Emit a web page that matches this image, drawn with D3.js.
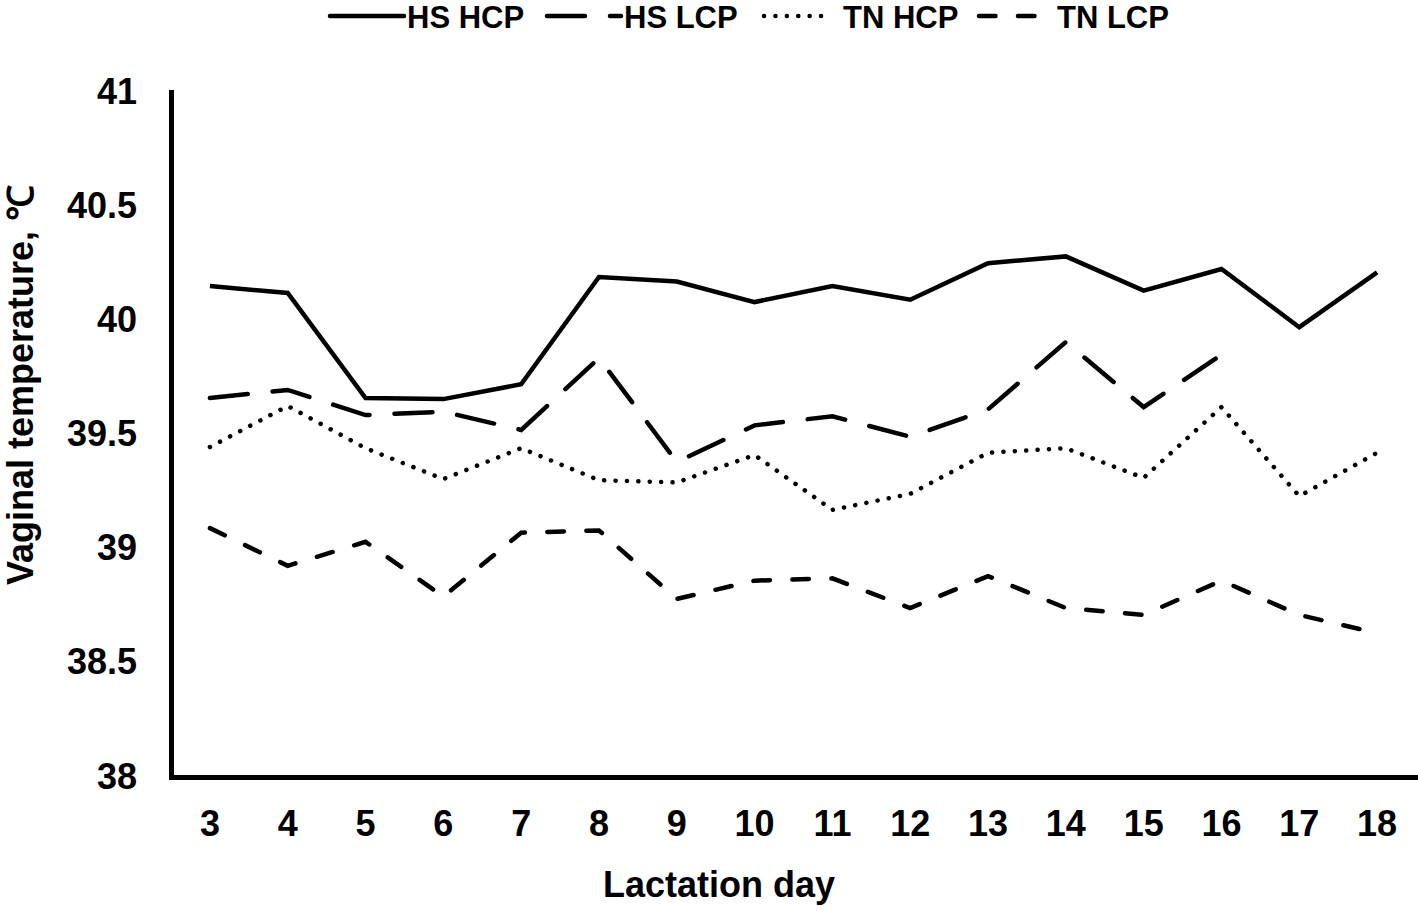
<!DOCTYPE html>
<html>
<head>
<meta charset="utf-8">
<script src="https://cdn.jsdelivr.net/npm/d3@7"></script>
<style>
  body { margin: 0; background: #fff; }
  text { font-family: "Liberation Sans", Arial, sans-serif; font-weight: bold; fill: #000; }
</style>
</head>
<body>
<script>
const days = [3, 4, 5, 6, 7, 8, 9, 10, 11, 12, 13, 14, 15, 16, 17, 18]
const hsHcp = [40.15, 40.12, 39.66, 39.655, 39.72, 40.19, 40.17, 40.08, 40.15, 40.09, 40.25, 40.28, 40.13, 40.225, 39.97, 40.21]
const hsLcp = [39.66, 39.695, 39.585, 39.60, 39.52, 39.835, 39.38, 39.54, 39.58, 39.49, 39.61, 39.905, 39.62, 39.85, null, null]
const tnHcp = [39.445, 39.625, 39.44, 39.305, 39.44, 39.30, 39.29, 39.41, 39.17, 39.24, 39.42, 39.44, 39.31, 39.62, 39.23, 39.42]
const tnLcp = [39.09, 38.925, 39.03, 38.79, 39.07, 39.08, 38.78, 38.86, 38.87, 38.74, 38.88, 38.74, 38.71, 38.86, 38.71, 38.63]
const yTicks = [38, 38.5, 39, 39.5, 40, 40.5, 41]
const yTickLabels = ['38', '38.5', '39', '39.5', '40', '40.5', '41']

const series = [
  { name: 'HS HCP', values: hsHcp, dash: null, len: 76 },
  { name: 'HS LCP', values: hsLcp, dash: '38,25', len: 76 },
  { name: 'TN HCP', values: tnHcp, dash: '0.1,11.3', len: 62 },
  { name: 'TN LCP', values: tnLcp, dash: '16.5,22.5', len: 76 }
]

const width = 1418
const height = 911

const svg = d3.select('body')
  .append('svg')
    .attr('width', width)
    .attr('height', height)

const x = d3.scaleBand().domain(days).range([171, 1416])
const y = d3.scaleLinear().domain([38, 41]).range([777, 92])

// axes
const xAxis = svg.append('g')
  .attr('transform', 'translate(0,777)')
  .call(d3.axisBottom(x).tickSize(0).tickSizeOuter(0))
xAxis.select('.domain').attr('stroke', '#000').attr('stroke-width', 5).attr('stroke-linecap', 'square')
xAxis.selectAll('.tick text')
  .attr('y', 59)
  .attr('dy', 0)
  .style('font-size', '36px')
  .style('font-family', '"Liberation Sans", Arial, sans-serif')
  .style('font-weight', 'bold')

const yAxis = svg.append('g')
  .attr('transform', 'translate(171,0)')
  .call(d3.axisLeft(y).tickValues(yTicks)
    .tickFormat((d, i) => yTickLabels[i])
    .tickSize(0).tickSizeOuter(0))
yAxis.select('.domain').attr('stroke', '#000').attr('stroke-width', 5).attr('stroke-linecap', 'square')
yAxis.selectAll('.tick text')
  .attr('x', -34)
  .attr('dy', 11)
  .style('font-size', '36px')
  .style('font-family', '"Liberation Sans", Arial, sans-serif')
  .style('font-weight', 'bold')

// lines
const line = d3.line()
  .defined((d) => d.v != null)
  .x((d) => x(d.day) + x.bandwidth() / 2)
  .y((d) => y(d.v))

series.forEach((s) => {
  svg.append('path')
    .datum(days.map((day, i) => ({ day: day, v: s.values[i] })))
    .attr('fill', 'none')
    .attr('stroke', '#000')
    .attr('stroke-width', 4.5)
    .attr('stroke-linecap', s.dash ? 'round' : 'butt')
    .attr('stroke-linejoin', 'miter')
    .attr('stroke-dasharray', s.dash)
    .attr('d', line)
})

// axis titles
svg.append('text')
  .attr('x', 719)
  .attr('y', 897)
  .attr('text-anchor', 'middle')
  .style('font-size', '36px')
  .text('Lactation day')

svg.append('text')
  .attr('transform', 'translate(33,385) rotate(-90)')
  .attr('text-anchor', 'middle')
  .style('font-size', '36px')
  .text('Vaginal temperature, ℃')

// legend
const legendX = [328, 545, 762, 977]
const legendTextX = [79, 79, 81, 80]
series.forEach((s, i) => {
  const g = svg.append('g').attr('transform', 'translate(' + legendX[i] + ',16)')
  g.append('line')
    .attr('x1', 2).attr('x2', s.len)
    .attr('stroke', '#000')
    .attr('stroke-width', 4.5)
    .attr('stroke-linecap', 'round')
    .attr('stroke-dasharray', s.dash)
  g.append('text')
    .attr('x', legendTextX[i])
    .attr('y', 12)
    .style('font-size', '31px')
    .text(s.name)
})
</script>
</body>
</html>
